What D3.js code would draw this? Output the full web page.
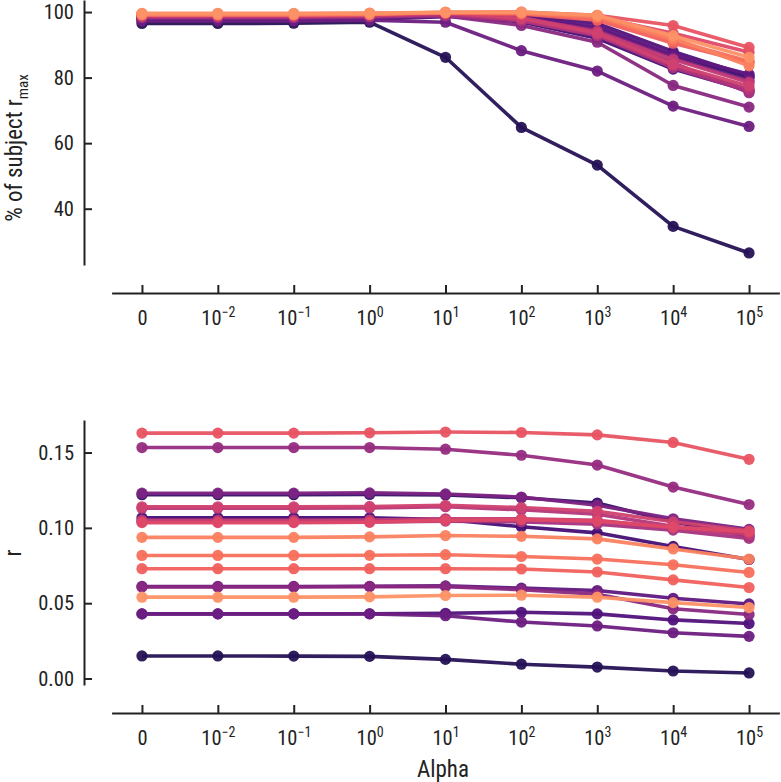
<!DOCTYPE html>
<html><head><meta charset="utf-8">
<script src="https://cdn.jsdelivr.net/npm/d3@7"></script>
<style>
body{margin:0;background:#fff;}
text{font-family:"Roboto Condensed","DejaVu Sans Condensed","Roboto",sans-serif;font-stretch:condensed;fill:#222;}
</style></head><body>
<svg id="c" width="781" height="782"></svg>
<script>
// ---- data ----
const alphaLabels = [["0",""],["10","-2"],["10","-1"],["10","0"],["10","1"],["10","2"],["10","3"],["10","4"],["10","5"]];
const subjects = ["s01","s02","s03","s04","s05","s06","s07","s08","s09","s10","s11","s12","s13","s14","s15","s16","s17","s18","s19"];
// % of subject r_max (top panel), one row per subject
const pctRmax = [
 [96.5,96.5,96.6,96.9,86.2,64.8,53.3,34.6,26.5],
 [98.6,98.6,98.6,98.8,99.4,98.5,95.0,86.5,80.0],
 [98.2,98.2,98.2,98.4,98.9,97.0,92.0,82.6,76.0],
 [97.5,97.5,97.5,97.8,98.6,99.2,96.5,88.0,80.5],
 [98.8,98.8,98.8,99.0,99.5,98.6,95.5,87.0,81.0],
 [97.3,97.3,97.3,97.5,96.9,88.2,82.0,71.3,65.1],
 [98.7,98.7,98.7,98.9,99.4,98.0,94.5,86.0,79.0],
 [98.3,98.3,98.3,98.5,98.8,95.9,90.8,77.6,71.0],
 [99.0,99.0,99.0,99.2,98.8,97.6,94.0,84.5,75.4],
 [98.4,98.4,98.4,98.6,99.1,97.3,92.8,83.0,75.8],
 [98.9,98.9,98.9,99.1,99.6,97.5,93.0,83.5,76.4],
 [98.7,98.7,98.7,98.9,99.5,98.3,94.0,85.5,78.5],
 [99.1,99.1,99.1,99.3,99.7,98.0,93.5,84.0,77.4],
 [99.0,99.0,99.0,99.2,99.7,99.5,98.5,93.5,87.7],
 [99.4,99.4,99.4,99.5,99.8,100.0,99.0,95.9,89.2],
 [99.5,99.5,99.5,99.6,99.7,99.4,97.5,90.5,84.6],
 [99.3,99.3,99.3,99.4,99.8,99.6,98.3,91.3,85.0],
 [99.2,99.2,99.2,99.3,100.0,99.8,98.7,92.0,83.6],
 [99.6,99.6,99.6,99.7,99.9,100.0,99.0,92.8,86.2]
];
// r (bottom panel), one row per subject
const rValues = [
 [0.0150,0.0150,0.0149,0.0147,0.0127,0.0095,0.0076,0.0050,0.0037],
 [0.1220,0.1220,0.1220,0.1222,0.1218,0.1200,0.1165,0.1040,0.0945],
 [0.1067,0.1067,0.1067,0.1067,0.1055,0.1007,0.0967,0.0877,0.0790],
 [0.0429,0.0429,0.0429,0.0430,0.0433,0.0440,0.0429,0.0389,0.0365],
 [0.0611,0.0611,0.0611,0.0612,0.0615,0.0600,0.0584,0.0533,0.0495],
 [0.0429,0.0429,0.0429,0.0429,0.0417,0.0375,0.0349,0.0304,0.0280],
 [0.1230,0.1230,0.1230,0.1232,0.1225,0.1205,0.1150,0.1060,0.0990],
 [0.0608,0.0608,0.0608,0.0610,0.0610,0.0589,0.0560,0.0463,0.0425],
 [0.1533,0.1533,0.1533,0.1533,0.1522,0.1482,0.1417,0.1271,0.1155],
 [0.1040,0.1040,0.1040,0.1040,0.1045,0.1040,0.1025,0.0985,0.0930],
 [0.1130,0.1130,0.1130,0.1132,0.1140,0.1120,0.1090,0.1010,0.0960],
 [0.1050,0.1050,0.1050,0.1052,0.1060,0.1060,0.1050,0.1000,0.0955],
 [0.1140,0.1140,0.1140,0.1142,0.1150,0.1135,0.1110,0.1040,0.0980],
 [0.1035,0.1035,0.1035,0.1037,0.1050,0.1055,0.1045,0.1005,0.0975],
 [0.1629,0.1629,0.1629,0.1631,0.1636,0.1633,0.1617,0.1567,0.1455],
 [0.0729,0.0729,0.0729,0.0729,0.0729,0.0727,0.0707,0.0655,0.0604],
 [0.0817,0.0817,0.0817,0.0818,0.0822,0.0810,0.0793,0.0755,0.0704],
 [0.0937,0.0937,0.0937,0.0940,0.0949,0.0944,0.0927,0.0860,0.0793],
 [0.0540,0.0540,0.0540,0.0542,0.0551,0.0553,0.0540,0.0504,0.0471]
];
const topTicks = [40,60,80,100];
const bottomTicks = [0.00,0.05,0.10,0.15];

// ---- drawing ----
const svg = d3.select("#c");
// map subject index -> magma t in [0.15,0.77]
const color = d3.scaleSequential(t => d3.interpolateMagma(0.15 + 0.62*t)).domain([0, subjects.length-1]);

const idx = d3.range(alphaLabels.length);
const x = d3.scaleLinear().domain([-0.4, alphaLabels.length-1+0.4]).range([111.6, 779.4]);

function pad(ext){const d=(ext[1]-ext[0])*0.05;return [ext[0]-d, ext[1]+d];}

function panel(data, yDomain, yTop, yBot, ticks, fmt, xAxisY){
  const y = d3.scaleLinear().domain(yDomain).range([yBot, yTop]);
  const g = svg.append("g");
  const ya = g.append("g").attr("transform","translate(84,0)")
    .call(d3.axisLeft(y).tickValues(ticks).tickFormat(fmt).tickSizeInner(-8).tickSizeOuter(0).tickPadding(10));
  ya.select(".domain").attr("stroke","#222").attr("stroke-width",2);
  ya.selectAll(".tick line").attr("stroke","#222").attr("stroke-width",2);
  ya.selectAll(".tick text").attr("font-size",20.5).attr("fill","#222");
  const xa = g.append("g").attr("transform",`translate(0,${xAxisY})`)
    .call(d3.axisBottom(x).tickValues(idx).tickFormat("").tickSizeInner(-8).tickSizeOuter(0));
  xa.select(".domain").attr("stroke","#222").attr("stroke-width",2);
  xa.selectAll(".tick line").attr("stroke","#222").attr("stroke-width",2);
  xa.selectAll(".tick").append("text").attr("y",32).attr("text-anchor","middle").attr("font-size",20.5).attr("fill","#222")
    .each(function(d){
      const t=d3.select(this); const lab=alphaLabels[d];
      t.append("tspan").text(lab[0]);
      if(lab[1]) t.append("tspan").attr("dy",-8).attr("font-size",14).text(lab[1].replace("-","\u2212"));
    });
  const line = d3.line().x((d,i)=>x(i)).y(d=>y(d));
  data.forEach((row,s)=>{
    const c = color(s);
    const sg = g.append("g");
    sg.append("path").attr("d",line(row)).attr("fill","none").attr("stroke",c).attr("stroke-width",3.6).attr("stroke-linejoin","round").attr("opacity",0.95);
    sg.selectAll("circle").data(row).join("circle").attr("cx",(d,i)=>x(i)).attr("cy",d=>y(d)).attr("r",5.6).attr("fill",c).attr("opacity",0.95);
  });
  return y;
}

panel(pctRmax, pad(d3.extent(pctRmax.flat())), 0, 265, topTicks, d3.format("d"), 293);
panel(rValues, pad(d3.extent(rValues.flat())), 420, 685, bottomTicks, d3.format(".2f"), 713);

// axis labels
const yl = svg.append("text").attr("transform","translate(22,148) rotate(-90)").attr("text-anchor","middle").attr("font-size",23);
yl.append("tspan").text("% of subject r");
yl.append("tspan").attr("dy",6).attr("font-size",15).text("max");
svg.append("text").attr("transform","translate(21,553) rotate(-90)").attr("text-anchor","middle").attr("font-size",23).text("r");
svg.append("text").attr("x",443).attr("y",777).attr("text-anchor","middle").attr("font-size",23).text("Alpha");
</script></body></html>
